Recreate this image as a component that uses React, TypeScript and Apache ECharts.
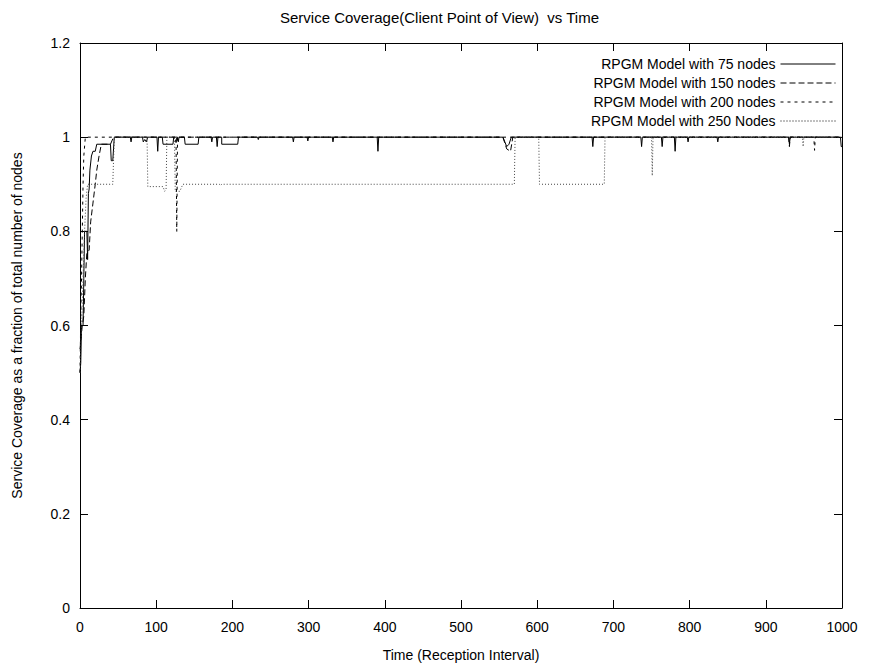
import React, { useEffect, useRef } from "react";
import * as echarts from "echarts";

const titleText = "Service Coverage(Client Point of View)  vs Time";
const xName = "Time (Reception Interval)";
const yName = "Service Coverage as a fraction of total number of nodes";
const seriesNames = [
  "RPGM Model with 75 nodes",
  "RPGM Model with 150 nodes",
  "RPGM Model with 200 nodes",
  "RPGM Model with 250 Nodes",
];

const nodes75: [number, number][] = [
  [0, 0.5], [1, 0.52], [2, 0.6], [4, 0.6], [5, 0.7], [6, 0.8], [9, 0.8], [10, 0.74], [11, 0.88],
  [12, 0.89], [13, 0.93], [15, 0.96], [17, 0.97], [20, 0.97], [22, 0.985], [40, 0.985], [41, 0.95],
  [43, 0.95], [45, 1], [66, 1], [67, 0.99], [68, 1], [82, 1], [83, 0.99], [85, 0.995], [87, 0.99],
  [89, 1], [101, 1], [102, 0.97], [103, 1], [108, 1], [109, 0.985], [122, 0.985], [123, 1], [128, 1],
  [129, 0.99], [130, 1], [137, 1], [138, 0.985], [155, 0.985], [156, 1], [172, 1], [173, 0.99],
  [174, 1], [179, 1], [180, 0.98], [181, 1], [186, 1], [186, 0.985], [207, 0.985], [208, 1],
  [233, 1], [234, 0.995], [235, 1], [279, 1], [280, 0.99], [281, 1], [298, 1], [299, 0.992],
  [300, 1], [331, 1], [332, 0.99], [333, 1], [390, 1], [391, 0.97], [392, 1], [555, 1], [560, 0.98],
  [563, 0.985], [566, 1], [672, 1], [673, 0.98], [674, 1], [736, 1], [737, 0.98], [738, 1],
  [763, 1], [764, 0.98], [765, 1], [780, 1], [781, 0.97], [782, 1], [797, 1], [798, 0.99], [799, 1],
  [836, 1], [837, 0.99], [838, 1], [930, 1], [931, 0.985], [932, 1], [998, 1], [999, 0.98], [1000, 0.98],
];

const nodes150: [number, number][] = [
  [0, 0.55], [3, 0.6], [5, 0.62], [7, 0.7], [9, 0.755], [12, 0.76], [14, 0.82], [17, 0.86],
  [20, 0.9], [22, 0.93], [25, 0.96], [28, 0.985], [40, 0.985], [44, 1], [125, 1], [126, 0.99],
  [127, 1], [555, 1], [560, 0.975], [565, 0.97], [568, 1], [930, 1], [931, 0.98], [932, 1], [1000, 1],
];

const nodes200: [number, number][] = [
  [0, 0.5], [1, 0.62], [2, 0.7], [3, 0.8], [4, 0.9], [5, 0.96], [7, 1], [126, 1], [127, 0.8],
  [128, 1], [963, 1], [964, 0.972], [965, 1], [1000, 1],
];

const nodes250: [number, number][] = [
  [0, 0.5], [2, 0.6], [4, 0.7], [6, 0.8], [8, 0.87], [10, 0.9], [43, 0.9], [45, 1], [88, 1],
  [89, 0.895], [109, 0.895], [111, 0.885], [113, 0.89], [114, 1], [124, 1], [125, 0.885],
  [131, 0.885], [135, 0.9], [183, 0.9], [184, 0.897], [186, 0.9], [570, 0.9], [571, 1], [602, 1],
  [603, 0.9], [688, 0.9], [689, 1], [750, 1], [751, 0.918], [752, 1], [948, 1], [949, 0.98],
  [950, 1], [1000, 1],
];

const seriesData = [nodes75, nodes150, nodes200, nodes250];
const dashTypes: any[] = ["solid", [6, 3], [3, 4], [1, 2]];

const FONT = "Liberation Sans, Arial, Helvetica, sans-serif";

export default function App() {
  const ref = useRef<HTMLDivElement>(null);
  useEffect(() => {
    if (!ref.current) return;
    const chart = echarts.init(ref.current, undefined, { renderer: "svg" });
    const axisCommon = {
      type: "value" as const,
      splitLine: { show: false },
      axisLine: { show: true, onZero: false, lineStyle: { color: "#000", width: 1 } },
      axisTick: { show: true, inside: true, length: 8, lineStyle: { color: "#000" } },
    };
    chart.setOption({
      animation: false,
      backgroundColor: "#fff",
      title: {
        text: titleText,
        left: "center",
        top: 5,
        textStyle: { fontFamily: FONT, fontSize: 15, fontWeight: "normal", color: "#000" },
      },
      legend: {
        orient: "vertical",
        right: 38,
        top: 52,
        align: "right",
        itemWidth: 55,
        itemHeight: 13,
        itemGap: 5,
        data: seriesNames,
        lineStyle: { width: 1, color: "#000" },
        itemStyle: { color: "transparent", borderColor: "transparent", borderWidth: 0 },
        textStyle: { fontFamily: FONT, fontSize: 14, color: "#000" },
      },
      grid: { left: 80, right: 37, top: 43, bottom: 63 },
      xAxis: [
        {
          ...axisCommon,
          position: "bottom",
          min: 0,
          max: 1000,
          interval: 100,
          name: xName,
          nameLocation: "middle",
          nameGap: 40,
          nameTextStyle: { fontFamily: FONT, fontSize: 14, color: "#000" },
          axisLabel: {
            fontFamily: FONT,
            fontSize: 14,
            color: "#000",
            margin: 12,
            formatter: (v: number) => String(v),
          },
        },
        {
          ...axisCommon,
          position: "top",
          min: 0,
          max: 1000,
          interval: 100,
          axisLabel: { show: false },
        },
      ],
      yAxis: [
        {
          ...axisCommon,
          position: "left",
          min: 0,
          max: 1.2,
          interval: 0.2,
          name: yName,
          nameLocation: "middle",
          nameGap: 56,
          nameTextStyle: { fontFamily: FONT, fontSize: 14, color: "#000" },
          axisLabel: { fontFamily: FONT, fontSize: 14, color: "#000", margin: 10 },
        },
        {
          ...axisCommon,
          position: "right",
          min: 0,
          max: 1.2,
          interval: 0.2,
          axisLabel: { show: false },
        },
      ],
      series: seriesData.map((d, i) => ({
        name: seriesNames[i],
        type: "line",
        xAxisIndex: 0,
        yAxisIndex: 0,
        data: d,
        showSymbol: false,
        symbol: "none",
        lineStyle: { color: i === 3 ? "#444" : "#000", width: 1, type: dashTypes[i] },
        itemStyle: { color: "#000" },
        emphasis: { disabled: true },
      })),
    });
    return () => chart.dispose();
  }, []);
  return (
    <div
      ref={ref}
      style={{ position: "fixed", left: 0, top: 0, width: 879, height: 671, background: "#fff" }}
    />
  );
}
